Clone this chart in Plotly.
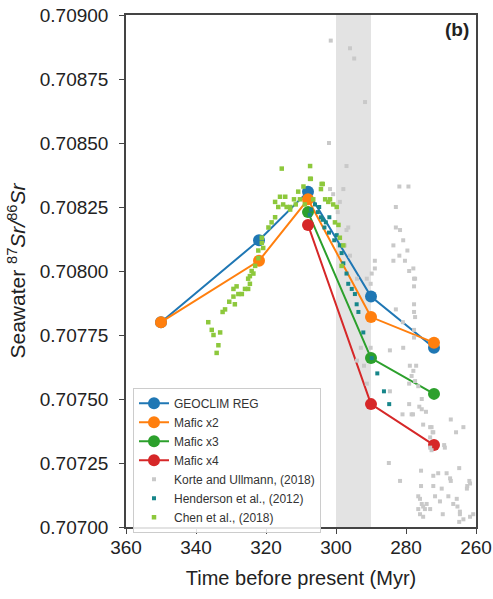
import plotly.graph_objects as go

# ---- model series ----
model_time = [350, 322, 308, 290, 272]
geoclim_reg = [0.70780, 0.70812, 0.70831, 0.70790, 0.70770]
mafic_x2 = [0.70780, 0.70804, 0.70828, 0.70782, 0.70772]
model_time_x3 = [308, 290, 272]
mafic_x3 = [0.70823, 0.70766, 0.70752]
mafic_x4 = [0.70818, 0.70748, 0.70732]

# ---- data: Korte and Ullmann (2018) ----
korte_x = [301.5, 296.0, 294.8, 291.7, 302.0, 297.0, 297.9, 298.9, 301.7, 300.8, 296.5, 297.0, 299.5,
           281.9, 279.3, 282.9, 282.9, 281.7, 280.8, 283.6, 279.6, 281.9, 280.3, 283.6, 279.1, 277.9,
           277.7, 277.4, 277.7, 277.7, 277.7, 277.4, 282.9, 280.9, 277.7, 277.7,
           288.9, 288.9, 289.8, 291.2, 290.1, 290.1, 284.6, 280.8,
           278.9, 277.9, 278.4, 277.4, 284.6, 275.5, 281.0, 278.4, 275.5, 267.2, 263.6, 272.7, 272.2,
           269.1, 284.9, 281.7, 277.1, 279.1, 276.5, 276.2, 279.1, 274.3, 278.0, 265.7, 275.1, 273.1,
           272.4, 273.1, 268.9, 273.1, 272.7, 275.7, 272.2, 270.8, 268.4, 267.4, 264.8, 267.2, 275.7,
           272.2, 269.8, 261.9, 262.5, 276.5, 276.0, 275.5, 275.1, 274.6, 276.0, 274.1, 276.5, 275.1,
           271.7, 270.3, 267.9, 265.5, 265.3, 266.5, 264.6, 264.8, 269.5, 273.1, 261.7, 260.8, 261.7,
           262.6, 264.6, 263.6, 292.9, 294.0, 292.0, 291.2, 297.5, 296.0, 294.0]
korte_y = [0.70890, 0.70887, 0.70883, 0.70866, 0.70850, 0.70841, 0.70832, 0.70827, 0.70832, 0.70830,
           0.70817, 0.70816, 0.70823,
           0.70833, 0.70833, 0.70825, 0.70817, 0.70816, 0.70812, 0.70810, 0.70808, 0.70806, 0.70804,
           0.70804, 0.70800, 0.70801, 0.70797, 0.70797, 0.70794, 0.70787, 0.70784, 0.70782, 0.70785,
           0.70780, 0.70777, 0.70774,
           0.70804, 0.70801, 0.70799, 0.70797, 0.70795, 0.70770, 0.70769, 0.70770,
           0.70763, 0.70761, 0.70759, 0.70757, 0.70753, 0.70750, 0.70744, 0.70744, 0.70746, 0.70742,
           0.70739, 0.70739, 0.70737, 0.70732, 0.70725, 0.70718, 0.70763, 0.70756, 0.70755, 0.70747,
           0.70748, 0.70745, 0.70744, 0.70737, 0.70740, 0.70739, 0.70737, 0.70735, 0.70731, 0.70731,
           0.70730, 0.70722, 0.70720, 0.70721, 0.70721, 0.70719, 0.70723, 0.70718, 0.70716, 0.70716,
           0.70715, 0.70718, 0.70716, 0.70712, 0.70711, 0.70709, 0.70708, 0.70707, 0.70705, 0.70709,
           0.70707, 0.70704, 0.70712, 0.70710, 0.70712, 0.70711, 0.70708, 0.70709, 0.70706, 0.70702,
           0.70705, 0.70707, 0.70704, 0.70705, 0.70717, 0.70715, 0.70705, 0.70703, 0.70770, 0.70765,
           0.70763, 0.70756, 0.70810, 0.70806, 0.70797]

# ---- data: Henderson et al. (2012) ----
henderson_x = [307.1, 305.2, 304.3, 303.8, 302.9, 301.9, 303.3, 306.0, 304.8, 307.5, 302.0, 300.5,
               299.8, 298.9, 298.4, 297.9, 297.0, 296.5, 295.5, 294.6, 294.1, 293.6, 292.2, 289.8,
               288.2, 286.3, 284.8]
henderson_y = [0.70824, 0.70823, 0.70821, 0.70820, 0.70819, 0.70821, 0.70817, 0.70826, 0.70825,
               0.70822, 0.70815, 0.70812, 0.70814, 0.70810, 0.70807, 0.70803, 0.70799, 0.70795,
               0.70793, 0.70791, 0.70787, 0.70784, 0.70776, 0.70766, 0.70760, 0.70753, 0.70748]

# ---- data: Chen et al. (2018) ----
chen_x = [336.5, 335.5, 335.0, 333.1, 333.6, 334.1, 332.4, 331.7, 330.5, 329.3, 327.9, 326.9, 328.9,
          329.3, 328.4, 326.0, 325.1, 325.1, 324.6, 324.1, 323.1, 322.2, 322.2, 321.2, 324.6, 323.6,
          320.8, 321.2, 319.3, 318.4, 317.4, 317.4, 316.5, 315.1, 313.1, 314.1, 313.1, 315.5, 310.8,
          309.3, 310.3, 308.9, 307.4, 307.4, 307.2, 306.5, 304.1, 304.3, 303.8, 303.1, 302.2, 301.7,
          300.8, 299.8, 300.3, 299.3, 298.9, 297.9, 298.4, 316.0, 312.0, 314.5, 311.5]
chen_y = [0.70780, 0.70777, 0.70775, 0.70776, 0.70771, 0.70768, 0.70784, 0.70785, 0.70788, 0.70790,
          0.70791, 0.70791, 0.70787, 0.70793, 0.70794, 0.70793, 0.70793, 0.70797, 0.70798, 0.70800,
          0.70802, 0.70805, 0.70808, 0.70811, 0.70795, 0.70799, 0.70809, 0.70813, 0.70817, 0.70819,
          0.70821, 0.70827, 0.70825, 0.70826, 0.70825, 0.70825, 0.70824, 0.70840, 0.70831, 0.70833,
          0.70828, 0.70826, 0.70841, 0.70836, 0.70836, 0.70828, 0.70834, 0.70832, 0.70834, 0.70828,
          0.70827, 0.70828, 0.70826, 0.70825, 0.70819, 0.70818, 0.70813, 0.70810, 0.70802, 0.70829,
          0.70828, 0.70829, 0.70826]

x_ticks = [360, 340, 320, 300, 280, 260]
y_ticks = [0.70700, 0.70725, 0.70750, 0.70775, 0.70800, 0.70825, 0.70850, 0.70875, 0.70900]
band = [300, 290]

FONT = "Liberation Sans, Arial, sans-serif"

fig = go.Figure()

line_series = [
    ("GEOCLIM REG", model_time, geoclim_reg, "#1f77b4"),
    ("Mafic x2", model_time, mafic_x2, "#ff7f0e"),
    ("Mafic x3", model_time_x3, mafic_x3, "#2ca02c"),
    ("Mafic x4", model_time_x3, mafic_x4, "#d62728"),
]
for name, xs, ys, c in line_series:
    fig.add_trace(go.Scatter(x=xs, y=ys, mode="lines+markers", name=name,
                             line=dict(color=c, width=2),
                             marker=dict(color=c, size=12)))

fig.add_trace(go.Scatter(x=korte_x, y=korte_y, mode="markers", name="Korte and Ullmann, (2018)",
                         marker=dict(color="#c9c9c9", size=4, symbol="square")))
fig.add_trace(go.Scatter(x=henderson_x, y=henderson_y, mode="markers", name="Henderson et al., (2012)",
                         marker=dict(color="#17868a", size=4, symbol="square")))
fig.add_trace(go.Scatter(x=chen_x, y=chen_y, mode="markers", name="Chen et al., (2018)",
                         marker=dict(color="#8dc83c", size=4.5, symbol="square")))

fig.add_vrect(x0=band[0], x1=band[1], fillcolor="#e3e3e3", line_width=0, layer="below")

fig.add_annotation(text="<b>(b)</b>", xref="paper", yref="paper", x=0.985, y=0.997,
                   xanchor="right", yanchor="top", showarrow=False,
                   font=dict(family=FONT, size=19, color="#222"))

axis_common = dict(showgrid=False, zeroline=False, showline=True, linecolor="#444",
                   linewidth=1.5, mirror=True, ticks="outside", ticklen=5, tickwidth=1.2,
                   tickcolor="#444", automargin=False, ticklabeloverflow="allow",
                   tickfont=dict(family=FONT, size=19, color="#222"))

fig.update_xaxes(range=[360, 260], tickvals=x_ticks, ticktext=[str(t) for t in x_ticks],
                 title=dict(text="Time before present (Myr)", font=dict(family=FONT, size=20, color="#222"),
                            standoff=14),
                 ticklabelstandoff=-3, **axis_common)
fig.update_yaxes(range=[0.707, 0.709], tickvals=y_ticks, ticktext=[f"{t:.5f}" for t in y_ticks],
                 title=dict(text="Seawater <sup>87</sup><i>Sr/</i><sup>86</sup><i>Sr</i>",
                            font=dict(family=FONT, size=21, color="#222"), standoff=8),
                 ticklabelstandoff=7, **axis_common)

fig.update_layout(
    width=493, height=599,
    margin=dict(l=126, r=17, t=15, b=72),
    paper_bgcolor="white", plot_bgcolor="white",
    showlegend=True,
    legend=dict(x=0.02, y=0.272, xanchor="left", yanchor="top",
                bgcolor="rgba(255,255,255,0.85)", bordercolor="#cccccc", borderwidth=1,
                font=dict(family=FONT, size=12, color="#333"), itemsizing="trace",
                tracegroupgap=0),
)

# remove the default page margin so the figure sits at the window's top-left corner
fig.write_html("out.html", config={"displayModeBar": False},
               post_script="document.body.style.margin='0';")
